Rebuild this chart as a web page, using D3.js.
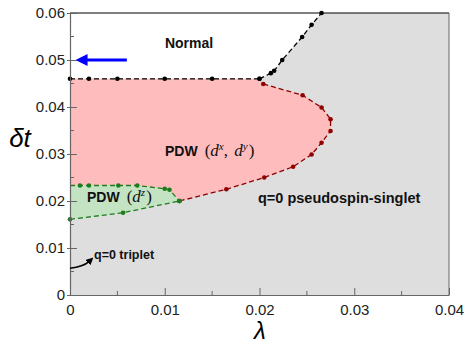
<!DOCTYPE html>
<html>
<head>
<meta charset="utf-8">
<script src="https://cdn.jsdelivr.net/npm/d3@7"></script>
<style>
  body { margin: 0; background: #fff; }
  svg text { font-family: "Liberation Sans", Arial, sans-serif; }
</style>
</head>
<body>
<div id="chart"></div>
<script>
// boundary between Normal and PDW (flat part)
var normalLam = [0, 0.002, 0.005, 0.01, 0.015, 0.02];
var normalDt  = [0.046, 0.046, 0.046, 0.046, 0.046, 0.046];
// Normal / pseudospin-singlet boundary (rising part)
var riseLam = [0.02, 0.0212, 0.02155, 0.0224, 0.0245, 0.0255, 0.02655];
var riseDt  = [0.046, 0.0472, 0.0477, 0.050, 0.0549, 0.0575, 0.060];
// PDW (dx,dy) / singlet boundary
var redLam = [0.0204, 0.02455, 0.02655, 0.0275, 0.0275, 0.02655, 0.0255, 0.02355, 0.0205, 0.0165, 0.01155];
var redDt  = [0.0449, 0.0425, 0.0399, 0.0374, 0.0349, 0.0324, 0.0299, 0.0273, 0.0250, 0.0225, 0.0200];
// PDW (dz) upper and lower boundaries
var greenUpLam = [0, 0.00105, 0.002, 0.0051, 0.0071, 0.01, 0.0105, 0.01155];
var greenUpDt  = [0.0233, 0.0233, 0.0233, 0.0233, 0.0233, 0.0226, 0.0224, 0.0200];
var greenUpDots = [false, true, true, true, true, true, true, true];
var greenLoLam = [0, 0.0056, 0.01155];
var greenLoDt  = [0.0161, 0.0175, 0.0200];

var xTicks = [0, 0.01, 0.02, 0.03, 0.04];
var yTicks = [0, 0.01, 0.02, 0.03, 0.04, 0.05, 0.06];

var W = 472, H = 352;
var x = d3.scaleLinear().domain([0, 0.04]).range([70, 449]);
var y = d3.scaleLinear().domain([0, 0.06]).range([295, 13]);

var svg = d3.select("#chart").append("svg")
  .attr("width", W).attr("height", H);

function pts(lam, dt) { return lam.map(function(l, i) { return [l, dt[i]]; }); }
var line = d3.line().x(function(d) { return x(d[0]); }).y(function(d) { return y(d[1]); });

var normalPts = pts(normalLam, normalDt);
var risePts = pts(riseLam, riseDt);
var redPts = pts(redLam, redDt);
var gUp = pts(greenUpLam, greenUpDt);
var gLo = pts(greenLoLam, greenLoDt);

// background: singlet region
svg.append("rect")
  .attr("x", x(0)).attr("y", y(0.06))
  .attr("width", x(0.04) - x(0)).attr("height", y(0) - y(0.06))
  .attr("fill", "#dedede");

// Normal region
var normalPoly = normalPts.concat(risePts.slice(1)).concat([[0, 0.06]]);
svg.append("path").attr("d", line(normalPoly) + "Z").attr("fill", "#ffffff");

// PDW dx,dy
var pinkPoly = normalPts.concat(redPts).concat(gUp.slice().reverse());
svg.append("path").attr("d", line(pinkPoly) + "Z").attr("fill", "#ffbcbc");

// PDW dz
var greenPoly = gUp.concat(gLo.slice().reverse());
svg.append("path").attr("d", line(greenPoly) + "Z").attr("fill", "#c3e3c3");

// frame
svg.append("line").attr("x1", x(0)).attr("x2", x(0.04)).attr("y1", y(0.06)).attr("y2", y(0.06))
  .attr("stroke", "#000").attr("stroke-width", 1.2);
svg.append("line").attr("x1", x(0.04)).attr("x2", x(0.04)).attr("y1", y(0.06)).attr("y2", y(0))
  .attr("stroke", "#666").attr("stroke-width", 1);

// boundaries
function boundary(data, color, dots) {
  svg.append("path").attr("d", line(data))
    .attr("fill", "none").attr("stroke", color)
    .attr("stroke-width", 1.3).attr("stroke-dasharray", "5,3");
  svg.selectAll(null).data(data.filter(function(d, i) { return !dots || dots[i]; }))
    .enter().append("circle")
    .attr("cx", function(d) { return x(d[0]); })
    .attr("cy", function(d) { return y(d[1]); })
    .attr("r", 2.3).attr("fill", color);
}
boundary(redPts, "#8f0000");
boundary(gUp, "#1d7d1d", greenUpDots);
boundary(gLo, "#1d7d1d");
boundary(normalPts, "#000");
boundary(risePts, "#000");

// axes
var xAxis = d3.axisBottom(x).tickValues(xTicks).tickSizeInner(-7).tickSizeOuter(0).tickPadding(9)
  .tickFormat(function(d) { return d === 0 ? "0" : d3.format(".2f")(d); });
var yAxis = d3.axisLeft(y).tickValues(yTicks).tickSizeInner(-7).tickSizeOuter(0).tickPadding(5)
  .tickFormat(function(d) { return d === 0 ? "0" : d3.format(".2f")(d); });

var gx = svg.append("g").attr("transform", "translate(0," + y(0) + ")").call(xAxis);
var gy = svg.append("g").attr("transform", "translate(" + x(0) + ",0)").call(yAxis);
[gx, gy].forEach(function(g) {
  g.select(".domain").attr("stroke", "#666").attr("stroke-width", 1.2);
  g.selectAll(".tick line").attr("stroke", "#666");
  g.selectAll(".tick text").attr("font-size", 15).attr("fill", "#222")
    .attr("font-family", "'Liberation Sans', Arial, sans-serif");
});
gy.selectAll(".tick line").attr("x1", -3);

// minor ticks
var minorX = [0.005, 0.015, 0.025, 0.035];
var minorY = [0.005, 0.015, 0.025, 0.035, 0.045, 0.055];
svg.selectAll(null).data(minorX).enter().append("line")
  .attr("x1", function(d) { return x(d); }).attr("x2", function(d) { return x(d); })
  .attr("y1", y(0)).attr("y2", y(0) - 4).attr("stroke", "#666");
svg.selectAll(null).data(minorY).enter().append("line")
  .attr("y1", function(d) { return y(d); }).attr("y2", function(d) { return y(d); })
  .attr("x1", x(0)).attr("x2", x(0) + 4).attr("stroke", "#666");

// axis titles
svg.append("text").attr("x", 260).attr("y", 339).attr("text-anchor", "middle")
  .attr("font-family", "'Liberation Serif', serif").attr("font-style", "italic")
  .attr("font-size", 24).text("λ");
svg.append("text").attr("x", 20).attr("y", 147).attr("text-anchor", "middle")
  .attr("font-family", "'Liberation Serif', serif").attr("font-style", "italic")
  .attr("font-size", 26).text("δt");

// region labels
function label(tx, ty, s, anchor) {
  return svg.append("text").attr("x", tx).attr("y", ty).attr("text-anchor", anchor || "start")
    .attr("font-weight", "bold").attr("font-size", 14).attr("fill", "#111").text(s);
}
label(189, 48, "Normal", "middle");
label(258, 203, "q=0 pseudospin-singlet").attr("font-size", 14.5);
label(94, 259, "q=0 triplet").attr("font-size", 12.5);

function pdw(tx, ty, sups) {
  var t = svg.append("text").attr("x", tx).attr("y", ty).attr("font-size", 14).attr("fill", "#111");
  t.append("tspan").attr("font-weight", "bold").text("PDW");
  var m = function() { return t.append("tspan").attr("font-family", "'Liberation Serif', serif").attr("font-size", 17); };
  m().attr("dx", 7).text("(");
  sups.forEach(function(s, i) {
    if (i > 0) m().attr("dy", 6).text(", ");
    var d = m().attr("font-style", "italic").text("d");
    if (i > 0) d.attr("dx", 2);
    m().attr("font-style", "italic").attr("font-size", 11).attr("dy", -6).text(s);
  });
  m().attr("dy", 6).attr("dx", 1).text(")");
}
pdw(165, 156, ["x", "y"]);
pdw(87, 202, ["z"]);

// arrows
var defs = svg.append("defs");
defs.append("marker").attr("id", "headBlue").attr("viewBox", "0 0 10 10")
  .attr("refX", 2).attr("refY", 5).attr("markerWidth", 4).attr("markerHeight", 4)
  .attr("orient", "auto").append("path").attr("d", "M0,0L10,5L0,10Z").attr("fill", "#0000ff");
defs.append("marker").attr("id", "headBlack").attr("viewBox", "0 0 10 10")
  .attr("refX", 2).attr("refY", 5).attr("markerWidth", 5).attr("markerHeight", 5)
  .attr("orient", "auto").append("path").attr("d", "M0,0L10,5L0,10Z").attr("fill", "#000");

svg.append("line").attr("x1", x(0.006)).attr("y1", y(0.05)).attr("x2", x(0.0016)).attr("y2", y(0.05))
  .attr("stroke", "#0000ff").attr("stroke-width", 3).attr("marker-end", "url(#headBlue)");

svg.append("path")
  .attr("d", "M" + x(0) + "," + y(0.0057) + " Q" + x(0.0014) + "," + y(0.0060) + " " + x(0.0020) + "," + y(0.0071))
  .attr("fill", "none").attr("stroke", "#000").attr("stroke-width", 1.5).attr("marker-end", "url(#headBlack)");
</script>
</body>
</html>
